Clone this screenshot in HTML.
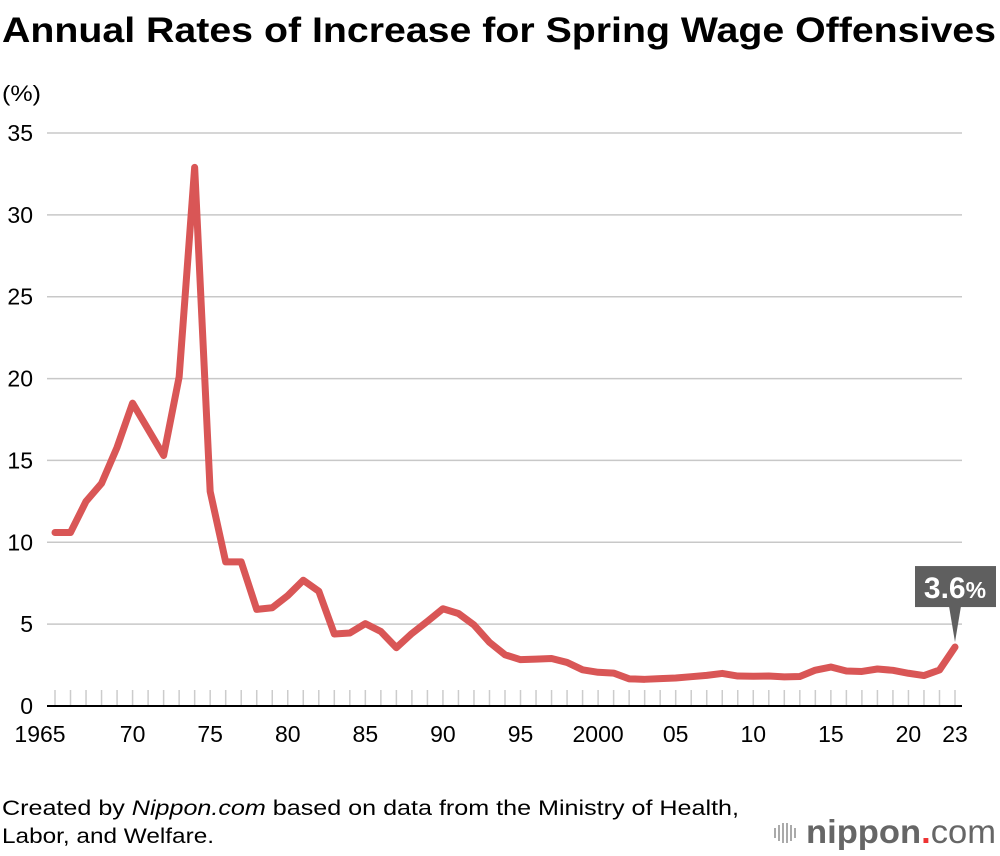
<!DOCTYPE html>
<html><head><meta charset="utf-8"><style>
body{margin:0;background:#fff;font-family:"Liberation Sans",Arial,sans-serif;}
#wrap{position:relative;width:1000px;height:856px;overflow:hidden;}
</style></head><body>
<div id="wrap">
<svg id="chart" width="1000" height="856" xmlns="http://www.w3.org/2000/svg">
<text x="2" y="42" font-size="35" font-weight="bold" fill="#000" textLength="994" lengthAdjust="spacingAndGlyphs">Annual Rates of Increase for Spring Wage Offensives</text>
<text x="2" y="101" font-size="22" fill="#000" textLength="39" lengthAdjust="spacingAndGlyphs">(%)</text>
<g id="grid"></g><g id="ticks"></g><g id="series"></g>
<text x="2" y="815" font-size="21" fill="#000" textLength="737" lengthAdjust="spacingAndGlyphs">Created by <tspan font-style="italic">Nippon.com</tspan> based on data from the Ministry of Health,</text>
<text x="2" y="843" font-size="21" fill="#000" textLength="212" lengthAdjust="spacingAndGlyphs">Labor, and Welfare.</text>
<g>
<g stroke="#aaa" stroke-width="2"><line x1="775" y1="828" x2="775" y2="838"/><line x1="779" y1="825" x2="779" y2="841"/><line x1="783" y1="823" x2="783" y2="843"/><line x1="787" y1="823" x2="787" y2="843"/><line x1="791" y1="825" x2="791" y2="841"/><line x1="795" y1="828" x2="795" y2="838"/></g>
<text x="806" y="843" font-size="33" font-weight="bold" fill="#666" textLength="190" lengthAdjust="spacingAndGlyphs">nippon<tspan fill="#e33">.</tspan><tspan font-weight="normal">com</tspan></text>
</g>
</svg>
</div>
<script>
const years=[1965,1966,1967,1968,1969,1970,1971,1972,1973,1974,1975,1976,1977,1978,1979,1980,1981,1982,1983,1984,1985,1986,1987,1988,1989,1990,1991,1992,1993,1994,1995,1996,1997,1998,1999,2000,2001,2002,2003,2004,2005,2006,2007,2008,2009,2010,2011,2012,2013,2014,2015,2016,2017,2018,2019,2020,2021,2022,2023];
const rates=[10.6,10.6,12.5,13.6,15.8,18.5,16.9,15.3,20.1,32.9,13.1,8.8,8.8,5.9,6.0,6.74,7.68,7.01,4.40,4.46,5.03,4.55,3.56,4.43,5.17,5.94,5.65,4.95,3.89,3.13,2.83,2.86,2.90,2.66,2.21,2.06,2.01,1.66,1.63,1.67,1.71,1.79,1.87,1.99,1.83,1.82,1.83,1.78,1.80,2.19,2.38,2.14,2.11,2.26,2.18,2.00,1.86,2.20,3.60];
const yTicks=[0,5,10,15,20,25,30,35];
const xLabelYears=[1965,1970,1975,1980,1985,1990,1995,2000,2005,2010,2015,2020,2023];
const xLabels=["1965","70","75","80","85","90","95","2000","05","10","15","20","23"];
const NS="http://www.w3.org/2000/svg";
const X=y=>55+(y-1965)*(955-55)/58;
const Y=v=>706-v*(706-133)/35;
function mk(t,a,p){const e=document.createElementNS(NS,t);for(const k in a)e.setAttribute(k,a[k]);p.appendChild(e);return e;}
const grid=document.getElementById('grid'),ticks=document.getElementById('ticks'),series=document.getElementById('series');
yTicks.forEach(v=>{
 if(v>0){const l=mk('line',{x1:47,x2:962,y1:Y(v),y2:Y(v),stroke:'#c8c8c8','stroke-width':1.5},grid);
 
 }
 const t=mk('text',{x:33,y:Y(v)+8,'font-size':23,'text-anchor':'end',fill:'#000'},grid);t.textContent=v;
 
 
});
years.forEach(y=>{const l=mk('line',{x1:X(y),x2:X(y),y1:690,y2:705,stroke:'#ccc','stroke-width':1.5},ticks);
 
 });
const ax=mk('line',{x1:47,x2:962,y1:706,y2:706,stroke:'#000','stroke-width':2},ticks);


xLabelYears.forEach((y,i)=>{const t=mk('text',{x:X(y)+(i==0?-15:0),y:742,'font-size':23,'text-anchor':'middle',fill:'#000'},ticks);t.textContent=xLabels[i];
 
 });
const p=mk('polyline',{points:years.map((y,i)=>X(y)+','+Y(rates[i])).join(' '),fill:'none',stroke:'#d95656','stroke-width':7,'stroke-linejoin':'round','stroke-linecap':'round'},series);


const lx=X(years[years.length-1]),ly=Y(rates[rates.length-1]);
const g=mk('g',{},series);


mk('rect',{x:915,y:ly-81,width:81,height:41,fill:'#5f5f5f'},g);
mk('polygon',{points:(lx-6)+','+(ly-41)+' '+(lx+6)+','+(ly-41)+' '+lx+','+(ly-5),fill:'#5f5f5f'},g);
const t=mk('text',{x:955,y:ly-49,'font-size':30,'font-weight':'bold','text-anchor':'middle',fill:'#fff'},g);
t.innerHTML='3.6<tspan font-size="23">%</tspan>';
</script>
</body></html>
